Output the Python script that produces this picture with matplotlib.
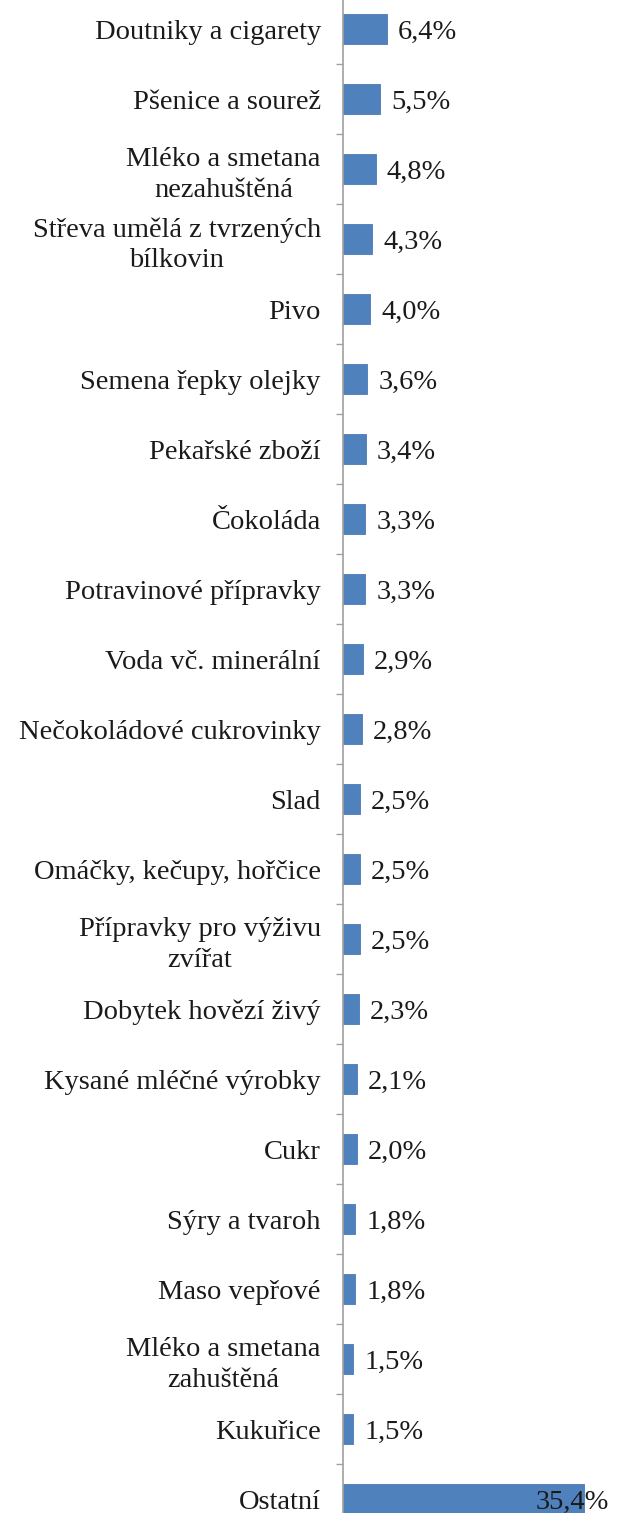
import matplotlib.pyplot as plt

# data
categories = [
    'Doutniky a cigarety', 'Pšenice a sourež', 'Mléko a smetana\nnezahuštěná',
    'Střeva umělá z tvrzených\nbílkovin', 'Pivo', 'Semena řepky olejky',
    'Pekařské zboží', 'Čokoláda', 'Potravinové přípravky', 'Voda vč. minerální',
    'Nečokoládové cukrovinky', 'Slad', 'Omáčky, kečupy, hořčice',
    'Přípravky pro výživu\nzvířat', 'Dobytek hovězí živý', 'Kysané mléčné výrobky',
    'Cukr', 'Sýry a tvaroh', 'Maso vepřové', 'Mléko a smetana\nzahuštěná',
    'Kukuřice', 'Ostatní',
]
shares = [6.4, 5.5, 4.8, 4.3, 4.0, 3.6, 3.4, 3.3, 3.3, 2.9, 2.8, 2.5, 2.5,
          2.5, 2.3, 2.1, 2.0, 1.8, 1.8, 1.5, 1.5, 35.4]
value_labels = [('%.1f%%' % v).replace('.', ',') for v in shares]

plt.rcParams['font.family'] = ['Liberation Serif', 'DejaVu Serif']
fs = 20.5

fig = plt.figure(figsize=(6.19, 15.13), dpi=100)
ax = fig.add_axes([343 / 619, 0, 1 - 343 / 619, 1])

y = list(range(len(categories)))
ax.barh(y, shares, height=0.43, color='#4f81bd', edgecolor='#4a7ab4', linewidth=0.6)

ax.set_xlim(0, 40.6)
ax.set_ylim(21.2, -0.42)

ax.set_yticks(y)
ax.set_yticklabels(categories, fontsize=fs, color='#1a1a1a',
                   multialignment='center', linespacing=1.3)
ax.tick_params(axis='y', which='major', length=0, pad=16)
ax.set_yticks([i + 0.5 for i in range(len(categories) - 1)], minor=True)
ax.tick_params(axis='y', which='minor', length=5, color='#a0a0a0', width=1)
ax.set_xticks([])

for s in ['top', 'right', 'bottom']:
    ax.spines[s].set_visible(False)
ax.spines['left'].set_color('#a0a0a0')
ax.spines['left'].set_linewidth(1.2)

# value labels
for i, (v, lab) in enumerate(zip(shares, value_labels)):
    if v > 30:
        ax.text(39.1, i, lab, ha='right', va='center_baseline', fontsize=fs, color='#1a1a1a')
    else:
        ax.text(v + 1.6, i, lab, ha='left', va='center_baseline', fontsize=fs, color='#1a1a1a')

plt.savefig('out.png', dpi=100)
